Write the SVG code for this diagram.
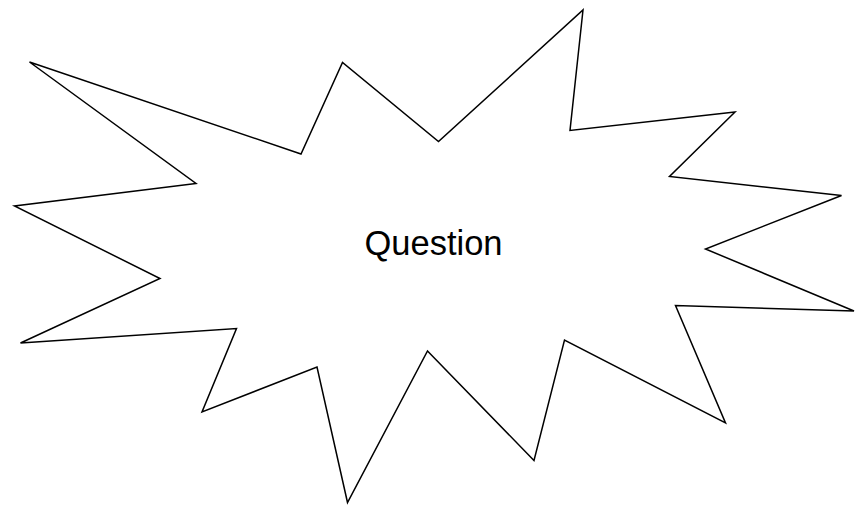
<svg xmlns="http://www.w3.org/2000/svg" width="855" height="508" viewBox="0 0 855 508">
<style>
.shape{fill:#fff;stroke:#000;stroke-width:1.5;stroke-linejoin:miter}
.lbl{font-family:"Liberation Sans",Arial,sans-serif;font-size:34.5px;fill:#000}
</style>
<rect width="855" height="508" fill="#fff"/>
<g id="question">
<polygon class="shape" points="29.5,62 301,154 342.5,62.5 438.5,141.5 583,10 570,130.5 735,112 669.5,176.5 841.5,195.5 705.5,249 854,311 675.5,305.5 725.5,423 564.5,340 534,460.5 427.5,351 347.5,502.5 317,367 202,412 236.5,328.5 20.5,343 160,278.5 14.5,206 196,183.5"/>
<text class="lbl" x="433.5" y="255" text-anchor="middle">Question</text>
</g>
<g id="connectors"/>
</svg>
